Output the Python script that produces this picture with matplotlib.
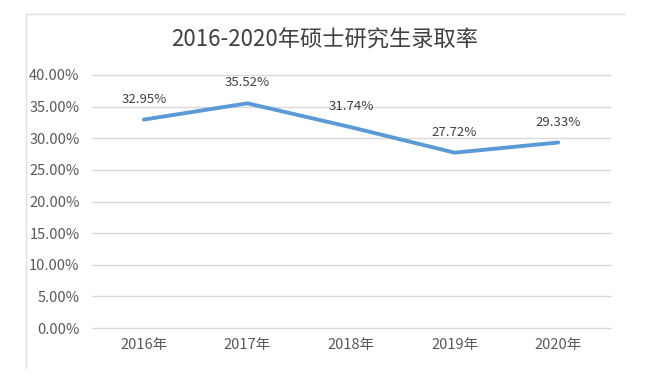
import matplotlib
matplotlib.use("Agg")
import matplotlib.pyplot as plt
from matplotlib.lines import Line2D
from matplotlib.ticker import FuncFormatter, MultipleLocator

plt.rcParams['font.family'] = ['Noto Sans CJK SC', 'DejaVu Sans']

years = ['2016年', '2017年', '2018年', '2019年', '2020年']
rates = [32.95, 35.52, 31.74, 27.72, 29.33]
title = '2016-2020年硕士研究生录取率'

W, H = 672, 376
fig = plt.figure(figsize=(W / 100, H / 100), dpi=100)
ax = fig.add_axes([92 / W, 1 - 328 / H, (610 - 92) / W, (328 - 75) / H])

x = range(len(years))
ax.plot(x, rates, color='#5B9BD5', linewidth=2.8, solid_capstyle='round')
for xi, r in zip(x, rates):
    ax.annotate(f'{r:.2f}%', (xi, r), xytext=(0, 10), textcoords='offset points',
                ha='center', va='bottom', fontsize=9.5, color='#404040')

ax.set_xlim(-0.5, len(years) - 0.5)
ax.set_ylim(0, 40)
ax.yaxis.set_major_locator(MultipleLocator(5))
ax.yaxis.set_major_formatter(FuncFormatter(lambda v, p: f'{v:.2f}%'))
ax.set_xticks(list(x))
ax.set_xticklabels(years)
ax.grid(axis='y', color='#d9d9d9', linewidth=1)
for gl in ax.get_ygridlines():
    gl.set_clip_on(False)
ax.set_axisbelow(True)
for s in ax.spines.values():
    s.set_visible(False)
ax.tick_params(axis='both', length=0, labelsize=10.5, colors='#595959')
ax.tick_params(axis='y', pad=9)
ax.tick_params(axis='x', pad=7)

fig.text(325 / W, 1 - 40 / H, title, ha='center', va='center', fontsize=16,
         color='#404040', fontweight='light')

# outer frame of the screenshot (top and left edges only)
fig.add_artist(Line2D([26 / W, 625 / W], [1 - 14 / H, 1 - 14 / H], color='#e0e0e0', lw=1))
fig.add_artist(Line2D([26 / W, 26 / W], [1 - 14 / H, 1 - 368 / H], color='#e0e0e0', lw=1))

fig.savefig('out.png', dpi=100, facecolor='white')
